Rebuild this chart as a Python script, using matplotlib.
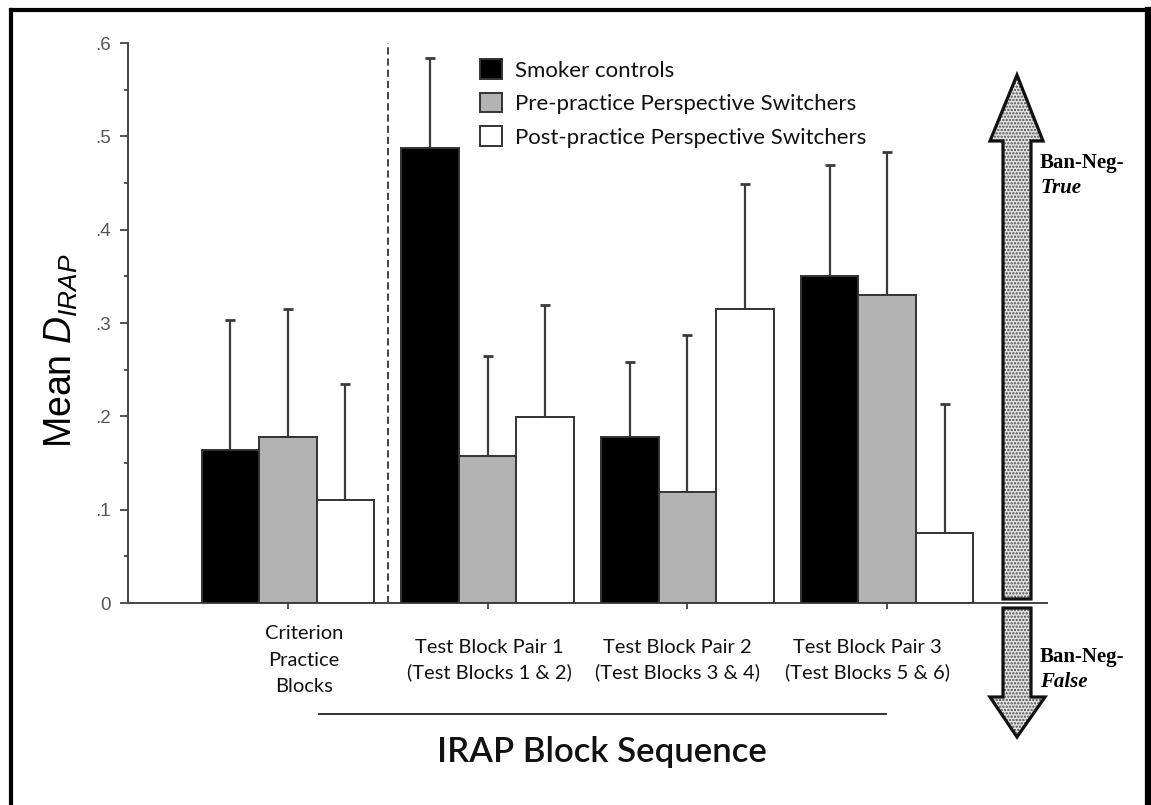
import matplotlib
matplotlib.use("Agg")
import matplotlib.pyplot as plt
import numpy as np
from matplotlib.patches import Polygon
from matplotlib.lines import Line2D
from matplotlib.ticker import MultipleLocator

# ---- data -------------------------------------------------------------
groups = [
    "Criterion\nPractice\nBlocks",
    "Test Block Pair 1\n(Test Blocks 1 & 2)",
    "Test Block Pair 2\n(Test Blocks 3 & 4)",
    "Test Block Pair 3\n(Test Blocks 5 & 6)",
]
series_names = [
    "Smoker controls",
    "Pre-practice Perspective Switchers",
    "Post-practice Perspective Switchers",
]
smoker_means = [0.164, 0.488, 0.178, 0.350]
smoker_err = [0.139, 0.096, 0.080, 0.119]
pre_means = [0.178, 0.158, 0.119, 0.330]
pre_err = [0.137, 0.107, 0.168, 0.153]
post_means = [0.110, 0.199, 0.315, 0.075]
post_err = [0.125, 0.120, 0.134, 0.138]
ytick_values = [0, 0.1, 0.2, 0.3, 0.4, 0.5, 0.6]
ytick_labels = ["0", ".1", ".2", ".3", ".4", ".5", ".6"]

# ---- style ------------------------------------------------------------
W, H = 1151, 805
plt.rcParams["mathtext.fontset"] = "custom"
plt.rcParams["mathtext.rm"] = "Liberation Sans"
plt.rcParams["mathtext.it"] = "Liberation Sans:italic"
plt.rcParams["hatch.linewidth"] = 1.1
SANS = "Lato"
EDGE = "#333333"
fills = ["#000000", "#b3b3b3", "#ffffff"]


def fx(px):
    return px / W


def fy(py):
    return 1 - py / H


fig = plt.figure(figsize=(W / 100, H / 100), dpi=100)
ax = fig.add_axes([fx(128), fy(603), fx(1047) - fx(128), fy(43) - fy(603)])

x = np.arange(len(groups))
width = 0.2875
offsets = [-width, 0.0, width]
all_means = [smoker_means, pre_means, post_means]
all_errs = [smoker_err, pre_err, post_err]

for name, means, errs, off, fc in zip(series_names, all_means, all_errs, offsets, fills):
    ax.bar(
        x + off, means, width=width, color=fc, edgecolor=EDGE, linewidth=1.4,
        yerr=[np.zeros(len(errs)), errs], label=name, zorder=3,
        error_kw=dict(ecolor="#3a3a3a", elinewidth=1.6, capsize=3.6, capthick=2.0, zorder=2),
    )

# divider between practice and test blocks
ax.axvline(0.5, color=EDGE, lw=1.3, ls=(0, (4, 2.2)), zorder=1)

ax.set_xlim(-0.8, 3.8)
ax.set_ylim(0, 0.6)
for s in ("top", "right"):
    ax.spines[s].set_visible(False)
for s in ("left", "bottom"):
    ax.spines[s].set_color("#444444")
    ax.spines[s].set_linewidth(1.4)

ax.set_yticks(ytick_values)
ax.set_yticklabels(ytick_labels, fontfamily="Liberation Sans", fontsize=13.5, color="#555555")
ax.yaxis.set_minor_locator(MultipleLocator(0.05))
ax.tick_params(axis="y", which="major", length=5.5, width=1.3, color="#444444", pad=7)
ax.tick_params(axis="y", which="minor", length=3, width=1.3, color="#444444")
ax.set_xticks(x)
ax.set_xticklabels([""] * len(groups))
ax.tick_params(axis="x", which="major", length=4, width=1.3, color="#444444")

# category labels under the axis
label_shift = [0.08, 0.01, -0.05, -0.1]
label_spacing = [1.66, 1.45, 1.45, 1.45]
for i, (lab, sh, ls) in enumerate(zip(groups, label_shift, label_spacing)):
    ax.text(i + sh, (603 - 660) / 560, lab, transform=ax.get_xaxis_transform(),
            ha="center", va="center", fontfamily=SANS, fontsize=14.5,
            linespacing=ls, color="#111111")

ax.set_ylabel("Mean $D_{IRAP}$", fontfamily="Liberation Sans", fontsize=27, color="#000000")
ax.yaxis.set_label_coords((80 - 128) / 919, (603 - 351) / 560)

# legend
leg = ax.legend(
    loc="upper left", bbox_to_anchor=(fx(480), fy(59)), bbox_transform=fig.transFigure,
    frameon=False, prop={"family": SANS, "size": 16}, handlelength=1.0, handleheight=1.0,
    handletextpad=0.58, labelspacing=0.54, borderpad=0, borderaxespad=0,
)
for t in leg.get_texts():
    t.set_color("#111111")

# axis title with rule above
fig.add_artist(Line2D([fx(319), fx(886)], [fy(714), fy(714)], color="#222222", lw=1.3))
fig.text(fx(602), fy(762), "IRAP Block Sequence", ha="center", va="baseline",
         fontfamily=SANS, fontsize=25, fontweight="semibold", color="#111111")

# double-headed direction arrow, split at the baseline
up = [(1003, 599), (1003, 141), (990, 141), (1017, 75), (1043, 141), (1031, 141), (1031, 599)]
down = [(1003, 608), (1003, 697), (990, 697), (1017, 737), (1045, 697), (1031, 697), (1031, 608)]
for shape in (up, down):
    pts = [(fx(a), fy(b)) for a, b in shape]
    fig.add_artist(Polygon(pts, closed=True, transform=fig.transFigure, facecolor="#e4e4e4",
                           edgecolor="#4a4a4a", hatch=".....", linewidth=0))
    fig.add_artist(Polygon(pts, closed=True, transform=fig.transFigure, fill=False,
                           edgecolor="#111111", linewidth=2.3, joinstyle="miter"))

serif = "Liberation Serif"
fig.text(fx(1040), fy(168), "Ban-Neg-", fontfamily=serif, fontweight="bold", fontsize=15, va="baseline")
fig.text(fx(1040), fy(193), "True", fontfamily=serif, fontweight="bold", fontstyle="italic", fontsize=15, va="baseline")
fig.text(fx(1040), fy(662), "Ban-Neg-", fontfamily=serif, fontweight="bold", fontsize=15, va="baseline")
fig.text(fx(1040), fy(687), "False", fontfamily=serif, fontweight="bold", fontstyle="italic", fontsize=15, va="baseline")

# outer frame (open at the bottom)
frame_kw = dict(color="#000000", solid_capstyle="projecting")
fig.add_artist(Line2D([fx(10.5), fx(10.5)], [0, fy(10)], lw=3.0, **frame_kw))
fig.add_artist(Line2D([fx(10.5), fx(1148)], [fy(10), fy(10)], lw=3.0, **frame_kw))
fig.add_artist(Line2D([fx(1148), fx(1148)], [fy(10), 0], lw=4.5, **frame_kw))

fig.savefig("out.png", dpi=100, facecolor="white")
